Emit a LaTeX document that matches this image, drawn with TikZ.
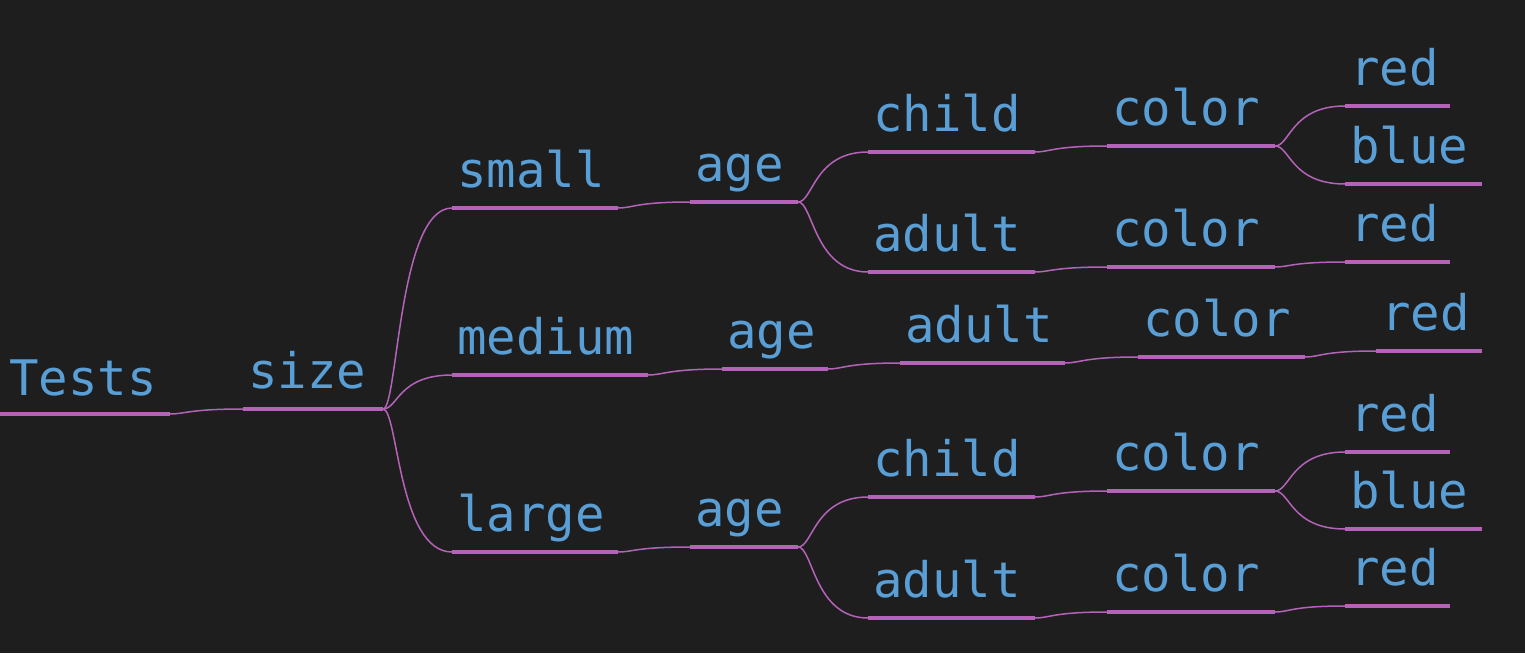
\documentclass[tikz,border=0pt]{standalone}
\usepackage{fontspec}
\setmonofont{DejaVu Sans Mono}
\definecolor{bgc}{HTML}{1E1E1E}
\definecolor{txtc}{HTML}{5A9ED6}
\definecolor{linec}{HTML}{B562B9}
\tikzset{
  uline/.style={draw=linec, line width=3.6pt},
  link/.style={draw=linec, line width=1.5pt},
  lbl/.style={anchor=base west, inner sep=0pt, text=txtc, font=\ttfamily\fontsize{49}{55}\selectfont}
}
\newcommand\mmnode[5]{%
  \coordinate (#1-s) at (#2,#4);
  \coordinate (#1-e) at (#3,#4);
  \draw[uline] (#1-s) -- (#1-e);
  \node[lbl] (#1) at (#2+5,#4-21) {#5};
}
\newcommand\mmlink[2]{\draw[link] (#1-e) .. controls +(15,0) and +(-54,0) .. (#2-s);}
\begin{document}
\begin{tikzpicture}[x=1pt,y=-1pt]
\fill[bgc] (0,0) rectangle (1525,653);
\useasboundingbox (0,0) rectangle (1525,653);
\coordinate (T-s) at (0,414);
\coordinate (T-e) at (170,414);
\draw[uline] (T-s) -- (T-e);
\node[lbl] (T) at (9,395) {Tests};
\mmnode{S}{243}{383}{409}{size}
\mmnode{sm}{452}{618}{208}{small}
\mmnode{me}{452}{648}{375}{medium}
\mmnode{la}{452}{618}{552}{large}
\mmnode{a1}{690}{798}{202}{age}
\mmnode{a2}{722}{828}{369}{age}
\mmnode{a3}{690}{798}{547}{age}
\mmnode{c1}{868}{1035}{152}{child}
\mmnode{d1}{868}{1035}{272}{adult}
\mmnode{d2}{900}{1065}{363}{adult}
\mmnode{c3}{868}{1035}{497}{child}
\mmnode{d3}{868}{1035}{618}{adult}
\mmnode{k1}{1107}{1275}{146}{color}
\mmnode{k2}{1107}{1275}{267}{color}
\mmnode{k3}{1138}{1305}{357}{color}
\mmnode{k4}{1107}{1275}{491}{color}
\mmnode{k5}{1107}{1275}{612}{color}
\mmnode{r1}{1345}{1450}{106}{red}
\mmnode{b1}{1345}{1482}{184}{blue}
\mmnode{r2}{1345}{1450}{262}{red}
\mmnode{r3}{1376}{1482}{351}{red}
\mmnode{r4}{1345}{1450}{452}{red}
\mmnode{b4}{1345}{1482}{529}{blue}
\mmnode{r5}{1345}{1450}{606}{red}
\mmlink{T}{S}
\mmlink{S}{sm}\mmlink{S}{me}\mmlink{S}{la}
\mmlink{sm}{a1}\mmlink{me}{a2}\mmlink{la}{a3}
\mmlink{a1}{c1}\mmlink{a1}{d1}\mmlink{a2}{d2}\mmlink{a3}{c3}\mmlink{a3}{d3}
\mmlink{c1}{k1}\mmlink{d1}{k2}\mmlink{d2}{k3}\mmlink{c3}{k4}\mmlink{d3}{k5}
\mmlink{k1}{r1}\mmlink{k1}{b1}\mmlink{k2}{r2}\mmlink{k3}{r3}
\mmlink{k4}{r4}\mmlink{k4}{b4}\mmlink{k5}{r5}
\end{tikzpicture}
\end{document}
